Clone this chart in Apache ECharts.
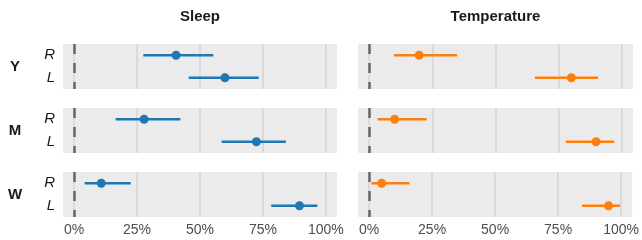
<!DOCTYPE html>
<html>
<head>
<meta charset="utf-8">
<script src="https://cdn.jsdelivr.net/npm/echarts@6/dist/echarts.min.js"></script>
<style>
  html, body { margin: 0; padding: 0; background: #fff; }
  #main { width: 642px; height: 240px; }
</style>
</head>
<body>
<div id="main"></div>
<script>
// categories
var columns = ['Sleep', 'Temperature'];
var rows = ['Y', 'M', 'W'];
var sides = ['R', 'L'];
var ticks = [0, 0.25, 0.5, 0.75, 1];
var colColors = ['#1f77b4', '#ff7f0e'];

// estimates per row: [R, L]
var sleepMid  = [[0.405, 0.599], [0.278, 0.724], [0.108, 0.895]];
var sleepLow  = [[0.275, 0.455], [0.165, 0.586], [0.042, 0.783]];
var sleepHigh = [[0.553, 0.733], [0.422, 0.841], [0.225, 0.966]];
var tempMid   = [[0.198, 0.800], [0.101, 0.898], [0.050, 0.950]];
var tempLow   = [[0.098, 0.656], [0.033, 0.778], [0.009, 0.845]];
var tempHigh  = [[0.348, 0.906], [0.228, 0.970], [0.160, 0.996]];

var mids = [sleepMid, tempMid];
var lows = [sleepLow, tempLow];
var highs = [sleepHigh, tempHigh];

var font = '"Liberation Sans", Arial, sans-serif';
var gridLeft = [63, 358];
var gridWidth = [274, 275];
var gridTop = [44, 108, 172];
var gridHeight = 45;

var grids = [], xAxes = [], yAxes = [], series = [];

function errorBar(params, api) {
    var a = api.coord([api.value(1), api.value(0)]);
    var b = api.coord([api.value(2), api.value(0)]);
    return {
        type: 'line',
        shape: { x1: a[0], y1: a[1], x2: b[0], y2: b[1] },
        style: { stroke: api.visual('color'), lineWidth: 2.5 }
    };
}

var idx = 0;
for (var r = 0; r < rows.length; r++) {
    for (var c = 0; c < columns.length; c++) {
        grids.push({
            left: gridLeft[c], top: gridTop[r], width: gridWidth[c], height: gridHeight,
            show: true, backgroundColor: '#ebebeb', borderWidth: 0
        });
        xAxes.push({
            type: 'value', gridIndex: idx, min: -0.044, max: 1.044,
            axisLine: { show: false },
            axisTick: { show: false, customValues: ticks },
            splitLine: { show: true, lineStyle: { color: '#dadada', width: 2 } },
            axisLabel: {
                show: r === rows.length - 1, customValues: ticks, margin: 6,
                color: '#4d4d4d', fontSize: 14, fontFamily: font,
                formatter: function (v) { return Math.round(v * 100) + '%'; }
            }
        });
        yAxes.push({
            type: 'category', gridIndex: idx, data: sides, inverse: true,
            axisLine: { show: false }, axisTick: { show: false },
            splitLine: { show: false },
            axisLabel: {
                show: c === 0, margin: 8, color: '#1a1a1a', fontSize: 15,
                fontStyle: 'italic', fontFamily: font
            }
        });
        var barData = [], ptData = [];
        for (var s = 0; s < sides.length; s++) {
            barData.push([s, lows[c][r][s], highs[c][r][s]]);
            ptData.push([mids[c][r][s], s]);
        }
        // dashed zero reference line
        series.push({
            type: 'scatter', xAxisIndex: idx, yAxisIndex: idx, data: [], z: 1,
            markLine: {
                silent: true, symbol: 'none', label: { show: false },
                lineStyle: { color: '#666666', width: 2.5, type: [10, 9] },
                data: [{ xAxis: 0 }]
            }
        });
        series.push({
            type: 'custom', xAxisIndex: idx, yAxisIndex: idx, z: 2,
            itemStyle: { color: colColors[c] },
            renderItem: errorBar,
            encode: { x: [1, 2], y: 0 },
            data: barData
        });
        series.push({
            type: 'scatter', xAxisIndex: idx, yAxisIndex: idx, z: 3,
            symbolSize: 9, itemStyle: { color: colColors[c], opacity: 1 },
            data: ptData
        });
        idx++;
    }
}

var graphics = [];
for (var c2 = 0; c2 < columns.length; c2++) {
    graphics.push({
        type: 'text', x: gridLeft[c2] + gridWidth[c2] / 2, y: 17,
        style: {
            text: columns[c2], align: 'center', verticalAlign: 'middle',
            font: 'bold 15px ' + font, fill: '#1a1a1a'
        }
    });
}
for (var r2 = 0; r2 < rows.length; r2++) {
    graphics.push({
        type: 'text', x: 15, y: gridTop[r2] + gridHeight / 2,
        style: {
            text: rows[r2], align: 'center', verticalAlign: 'middle',
            font: 'bold 15px ' + font, fill: '#1a1a1a'
        }
    });
}

var option = {
    animation: false,
    grid: grids,
    xAxis: xAxes,
    yAxis: yAxes,
    graphic: graphics,
    series: series
};

var chart = echarts.init(document.getElementById('main'));
chart.setOption(option);
</script>
</body>
</html>
